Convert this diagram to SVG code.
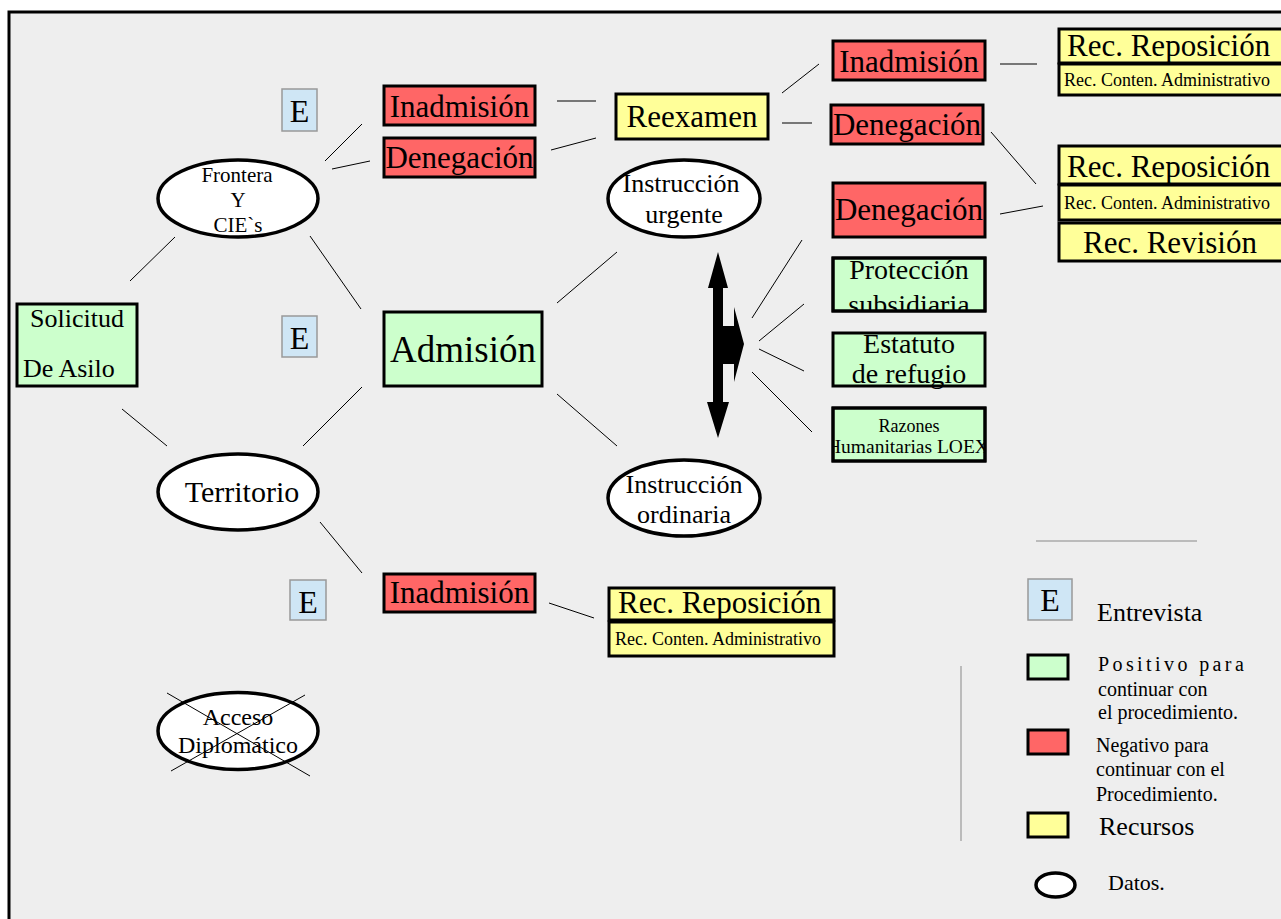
<svg xmlns="http://www.w3.org/2000/svg" width="1281" height="919" viewBox="0 0 1281 919">
<style>
text{font-family:"Liberation Serif","Times New Roman",serif;fill:#000}
.c{text-anchor:middle}
.red{fill:#ff6666;stroke:#000;stroke-width:3}
.grn{fill:#ccffcc;stroke:#000;stroke-width:3}
.yel{fill:#ffff99;stroke:#000;stroke-width:3}
.ell{fill:#fff;stroke:#000;stroke-width:3.5}
.ebox{fill:#cfe6f5;stroke:#999;stroke-width:1.5}
.ln{stroke:#000;stroke-width:1;fill:none}
.gl{stroke:#aaa;stroke-width:1.5;fill:none}
.f31{font-size:31px}
.f18{font-size:18px}
</style>
<defs>
<clipPath id="cpProt"><rect x="834" y="259" width="150" height="51"/></clipPath>
<clipPath id="cpRaz"><rect x="834" y="409" width="150" height="51"/></clipPath>
</defs>
<rect x="0" y="0" width="1281" height="919" fill="#fff"/>
<rect x="9" y="12" width="1290" height="920" fill="#eeeeee" stroke="#000" stroke-width="3"/>

<g id="connectors">
<line class="ln" x1="130" y1="281" x2="175" y2="237"/>
<line class="ln" x1="310" y1="236" x2="361" y2="309"/>
<line class="ln" x1="325" y1="161" x2="362" y2="124"/>
<line class="ln" x1="332" y1="169" x2="370" y2="161"/>
<line class="ln" x1="557" y1="101" x2="596" y2="101"/>
<line class="ln" x1="551" y1="150" x2="596" y2="138"/>
<line class="ln" x1="782" y1="93" x2="819" y2="64"/>
<line class="ln" x1="782" y1="123" x2="812" y2="123"/>
<line class="ln" x1="1000" y1="64" x2="1037" y2="64"/>
<line class="ln" x1="991" y1="132" x2="1036" y2="184"/>
<line class="ln" x1="1000" y1="214" x2="1043" y2="206"/>
<line class="ln" x1="557" y1="303" x2="617" y2="252"/>
<line class="ln" x1="557" y1="394" x2="617" y2="446"/>
<line class="ln" x1="122" y1="409" x2="167" y2="446"/>
<line class="ln" x1="303" y1="446" x2="362" y2="387"/>
<line class="ln" x1="320" y1="522" x2="362" y2="573"/>
<line class="ln" x1="549" y1="603" x2="594" y2="618"/>
<line class="ln" x1="752" y1="318" x2="802" y2="240"/>
<line class="ln" x1="759" y1="341" x2="804" y2="304"/>
<line class="ln" x1="759" y1="349" x2="804" y2="371"/>
<line class="ln" x1="752" y1="372" x2="812" y2="432"/>
</g>

<g id="arrow">
<polygon fill="#000" points="718,252 728,288 723,288 723,326 734,326 734,307 744,344 734,382 734,364 723,364 723,402 729,402 718,438 707,402 713,402 713,288 708,288"/>
</g>

<g id="solicitud">
<rect class="grn" x="17" y="304" width="120" height="82"/>
<text x="77" y="327" font-size="26" class="c">Solicitud</text>
<text x="23" y="377" font-size="26">De Asilo</text>
</g>

<g id="frontera">
<ellipse class="ell" cx="238" cy="198.5" rx="80" ry="38.5"/>
<text x="237" y="182" font-size="21" class="c">Frontera</text>
<text x="238" y="207" font-size="21" class="c">Y</text>
<text x="238" y="232" font-size="21" class="c">CIE`s</text>
</g>

<g id="e1">
<rect class="ebox" x="282" y="89" width="35" height="42"/>
<text x="299.5" y="122" font-size="32" class="c">E</text>
</g>
<g id="e2">
<rect class="ebox" x="282" y="316" width="35" height="41"/>
<text x="299.5" y="349" font-size="32" class="c">E</text>
</g>
<g id="e3">
<rect class="ebox" x="290" y="580" width="36" height="40"/>
<text x="308" y="613" font-size="32" class="c">E</text>
</g>

<g id="inadmision1">
<rect class="red" x="384" y="86" width="151" height="39"/>
<text x="459.5" y="117" class="f31 c">Inadmisión</text>
</g>
<g id="denegacion1">
<rect class="red" x="384" y="138" width="151" height="39"/>
<text x="459.5" y="168" class="f31 c">Denegación</text>
</g>

<g id="reexamen">
<rect class="yel" x="616" y="94" width="152" height="45"/>
<text x="692" y="127" class="f31 c">Reexamen</text>
</g>

<g id="inadmision2">
<rect class="red" x="833" y="41" width="152" height="39"/>
<text x="909" y="72" class="f31 c">Inadmisión</text>
</g>
<g id="denegacion2">
<rect class="red" x="831" y="105" width="152" height="39"/>
<text x="907" y="135" class="f31 c">Denegación</text>
</g>
<g id="denegacion3">
<rect class="red" x="833" y="183" width="152" height="54"/>
<text x="909" y="220" class="f31 c">Denegación</text>
</g>

<g id="recursos1">
<rect class="yel" x="1059" y="29" width="240" height="34"/>
<text x="1067" y="56" class="f31">Rec. Reposición</text>
<rect class="yel" x="1059" y="64" width="240" height="31"/>
<text x="1064" y="86" class="f18">Rec. Conten. Administrativo</text>
</g>

<g id="recursos2">
<rect class="yel" x="1059" y="146" width="240" height="38"/>
<text x="1067" y="177" class="f31">Rec. Reposición</text>
<rect class="yel" x="1059" y="185" width="240" height="35"/>
<text x="1064" y="209" class="f18">Rec. Conten. Administrativo</text>
<rect class="yel" x="1059" y="223" width="240" height="38"/>
<text x="1083" y="253" class="f31">Rec. Revisión</text>
</g>

<g id="urgente">
<ellipse class="ell" cx="684" cy="198.5" rx="76" ry="38.5"/>
<text x="681" y="192" font-size="26" class="c">Instrucción</text>
<text x="684" y="223" font-size="26" class="c">urgente</text>
</g>

<g id="admision">
<rect class="grn" x="384" y="312" width="158" height="74"/>
<text x="463" y="362" font-size="37" class="c">Admisión</text>
</g>

<g id="ordinaria">
<ellipse class="ell" cx="684" cy="498" rx="76" ry="38"/>
<text x="684" y="493" font-size="26" class="c">Instrucción</text>
<text x="684" y="523" font-size="26" class="c">ordinaria</text>
</g>

<g id="proteccion">
<rect class="grn" x="833" y="258" width="152" height="53"/>
<g clip-path="url(#cpProt)">
<text x="909" y="279" font-size="28" class="c">Protección</text>
<text x="909" y="314" font-size="28" class="c">subsidiaria</text>
</g>
<rect x="833" y="258" width="152" height="53" fill="none" stroke="#000" stroke-width="3"/>
</g>

<g id="estatuto">
<rect class="grn" x="833" y="333" width="152" height="53"/>
<text x="909" y="353" font-size="28" class="c">Estatuto</text>
<text x="909" y="383" font-size="28" class="c">de refugio</text>
</g>

<g id="razones">
<rect class="grn" x="833" y="408" width="152" height="53"/>
<g clip-path="url(#cpRaz)">
<text x="909" y="432" font-size="18" class="c">Razones</text>
<text x="908" y="453" font-size="19.5" class="c">Humanitarias LOEX</text>
</g>
<rect x="833" y="408" width="152" height="53" fill="none" stroke="#000" stroke-width="3"/>
</g>

<g id="territorio">
<ellipse class="ell" cx="238" cy="492" rx="80" ry="38"/>
<text x="242" y="502" font-size="30" class="c">Territorio</text>
</g>

<g id="inadmision3">
<rect class="red" x="384" y="574" width="151" height="38"/>
<text x="459.5" y="603" class="f31 c">Inadmisión</text>
</g>

<g id="recursos3">
<rect class="yel" x="609" y="588" width="225" height="32"/>
<text x="618" y="613" class="f31">Rec. Reposición</text>
<rect class="yel" x="609" y="622" width="225" height="34"/>
<text x="615" y="645" class="f18">Rec. Conten. Administrativo</text>
</g>

<g id="acceso">
<ellipse class="ell" cx="238" cy="731" rx="80" ry="38.5"/>
<text x="238" y="725" font-size="24" class="c">Acceso</text>
<text x="238" y="753" font-size="24" class="c">Diplomático</text>
<line class="ln" x1="167" y1="693" x2="310" y2="776"/>
<line class="ln" x1="305" y1="695" x2="171" y2="771"/>
</g>

<g id="legend">
<line class="gl" x1="1036" y1="541" x2="1197" y2="541"/>
<line class="gl" x1="961" y1="666" x2="961" y2="841"/>
<rect class="ebox" x="1028" y="579" width="44" height="41"/>
<text x="1050" y="611" font-size="32" class="c">E</text>
<text x="1097" y="621" font-size="26">Entrevista</text>
<rect class="grn" x="1028" y="655" width="40" height="24"/>
<text x="1098" y="671" font-size="20" letter-spacing="3.4">Positivo para</text>
<text x="1098" y="696" font-size="20">continuar con</text>
<text x="1098" y="719" font-size="20">el procedimiento.</text>
<rect class="red" x="1028" y="730" width="40" height="24"/>
<text x="1096" y="752" font-size="20">Negativo para</text>
<text x="1096" y="776" font-size="20">continuar con el</text>
<text x="1096" y="801" font-size="20">Procedimiento.</text>
<rect class="yel" x="1028" y="813" width="40" height="24"/>
<text x="1099" y="835" font-size="26">Recursos</text>
<ellipse class="ell" cx="1055.5" cy="885" rx="19.5" ry="12"/>
<text x="1108" y="890" font-size="22">Datos.</text>
</g>
</svg>
